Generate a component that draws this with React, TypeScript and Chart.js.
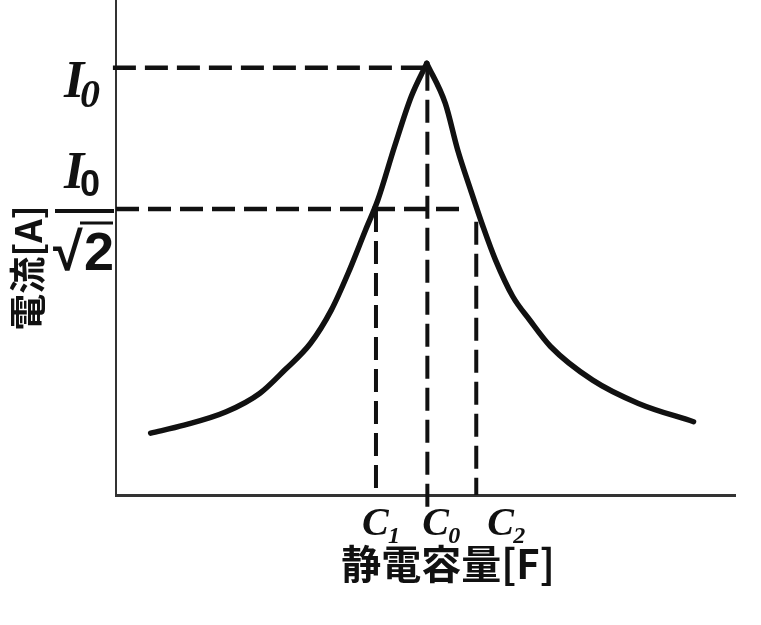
import React, { useEffect, useRef } from "react";
import { Chart, registerables } from "chart.js";

Chart.register(...registerables);

// Resonance curve (capacitance vs current) (arbitrary units)
// left flank up to the peak, right flank from the peak
const leftX = [5.6, 11.0, 17.8, 23.2, 27.3, 31.4, 34.8, 37.5, 40.3, 42.3, 45.0, 47.7, 50.2];
const leftY = [12.5, 14.1, 16.8, 20.5, 25.3, 30.6, 37.4, 44.8, 53.5, 59.6, 70.4, 80.5, 87.2];
const rightX = [50.2, 53.2, 55.2, 57.3, 59.3, 61.3, 64.1, 66.8, 70.2, 77.0, 84.4, 93.3];
const rightY = [87.2, 79.1, 69.7, 61.6, 54.2, 47.5, 40.1, 35.4, 30.0, 23.2, 18.5, 14.8];

// Reference levels and capacitances
const I0 = 86.3;
const halfLevel = 57.8;
const C1 = 42.0;
const C0 = 50.3;
const C2 = 58.2;
const halfLineEnd = 55.9;
const C2Top = 55.2;
const C0Bottom = -3.4;
const I0Start = -0.5;

// Labels
const cLabels = ["C", "C", "C"];
const cSubs = ["1", "0", "2"];
const yLevelLabel = "I";
const yLevelSub = "0";
const sqrtLabel = "√";
const sqrtArg = "2";
const xTitle = "静電容量[F]";
const yTitle = "電流[A]";

const INK = "#111";

const labelPlugin = {
  id: "labels",
  afterDraw(chart: any) {
    const ctx = chart.ctx as CanvasRenderingContext2D;
    const xs = chart.scales.x;
    const ys = chart.scales.y;
    ctx.save();
    ctx.fillStyle = INK;
    ctx.strokeStyle = INK;
    ctx.textBaseline = "alphabetic";
    ctx.textAlign = "left";

    // I0 label
    const yI0 = ys.getPixelForValue(I0);
    ctx.font = 'bold italic 52px "Liberation Serif"';
    ctx.fillText(yLevelLabel, 64, yI0 + 29);
    ctx.font = 'bold italic 40px "Liberation Serif"';
    ctx.fillText(yLevelSub, 80, yI0 + 39);

    // I0 / sqrt(2) label
    const yHalf = ys.getPixelForValue(halfLevel);
    ctx.font = 'bold italic 52px "Liberation Serif"';
    ctx.fillText(yLevelLabel, 64, yHalf - 21);
    ctx.font = 'bold 36px "Liberation Sans"';
    ctx.fillText(yLevelSub, 80, yHalf - 13);
    ctx.lineWidth = 4;
    ctx.beginPath();
    ctx.moveTo(55, yHalf + 2);
    ctx.lineTo(114, yHalf + 2);
    ctx.stroke();
    ctx.font = 'bold 54px "Liberation Sans"';
    ctx.fillText(sqrtLabel, 53, yHalf + 61);
    ctx.fillText(sqrtArg, 84, yHalf + 61);
    ctx.lineWidth = 3;
    ctx.beginPath();
    ctx.moveTo(80, yHalf + 14);
    ctx.lineTo(113, yHalf + 14);
    ctx.stroke();

    // C labels
    const cVals = [C1, C0, C2];
    const offsets = [-14, -5, 11];
    const baseY = xs.bottom + 40;
    cVals.forEach((v, i) => {
      const px = xs.getPixelForValue(v) + offsets[i];
      ctx.font = 'bold italic 40px "Liberation Serif"';
      ctx.fillText(cLabels[i], px, baseY);
      ctx.font = 'bold italic 24px "Liberation Serif"';
      ctx.fillText(cSubs[i], px + 26, baseY + 8);
    });

    // Axis titles
    ctx.textAlign = "center";
    ctx.textBaseline = "middle";
    ctx.font = 'bold 40px "Noto Sans CJK JP"';
    ctx.fillText(xTitle, 448, xs.bottom + 69);
    ctx.save();
    ctx.translate(28, 268);
    ctx.rotate(-Math.PI / 2);
    ctx.font = 'bold 37px "Noto Sans CJK JP"';
    ctx.fillText(yTitle, 0, 0);
    ctx.restore();

    ctx.restore();
  },
};

export default function App() {
  const ref = useRef<HTMLCanvasElement | null>(null);
  useEffect(() => {
    if (!ref.current) return;
    const dash = [23, 9];
    const curveStyle = {
      borderColor: INK,
      borderWidth: 5.5,
      pointRadius: 0,
      cubicInterpolationMode: "monotone" as const,
      borderCapStyle: "round" as const,
      borderJoinStyle: "round" as const,
    };
    const dashStyle = {
      borderColor: INK,
      borderWidth: 4.5,
      borderDash: dash,
      pointRadius: 0,
      clip: false as const,
    };
    const chart = new Chart(ref.current, {
      type: "line",
      data: {
        datasets: [
          { ...curveStyle, data: leftX.map((x, i) => ({ x, y: leftY[i] })) },
          { ...curveStyle, data: rightX.map((x, i) => ({ x, y: rightY[i] })) },
          { ...dashStyle, data: [{ x: I0Start, y: I0 }, { x: C0, y: I0 }] },
          { ...dashStyle, data: [{ x: 0, y: halfLevel }, { x: halfLineEnd, y: halfLevel }] },
          { ...dashStyle, borderWidth: 4, data: [{ x: C1, y: halfLevel }, { x: C1, y: 0 }] },
          { ...dashStyle, borderWidth: 4, data: [{ x: C0, y: I0 }, { x: C0, y: C0Bottom }] },
          { ...dashStyle, borderWidth: 4, data: [{ x: C2, y: C2Top }, { x: C2, y: 0 }] },
        ],
      },
      options: {
        animation: false,
        responsive: false,
        events: [],
        layout: { padding: { left: 116, right: 26, top: 0, bottom: 130 } },
        plugins: { legend: { display: false }, tooltip: { enabled: false } },
        scales: {
          x: {
            type: "linear",
            min: 0,
            max: 100,
            ticks: { display: false },
            grid: { display: false, drawTicks: false },
            border: { display: true, color: "#333", width: 3 },
          },
          y: {
            type: "linear",
            min: 0,
            max: 100,
            ticks: { display: false },
            grid: { display: false, drawTicks: false },
            border: { display: true, color: "#333", width: 2 },
          },
        },
      },
      plugins: [labelPlugin],
    });
    return () => chart.destroy();
  }, []);
  return (
    <canvas
      ref={ref}
      width={761}
      height={625}
      style={{ position: "fixed", left: 0, top: 0, width: 761, height: 625, background: "#fff" }}
    />
  );
}
